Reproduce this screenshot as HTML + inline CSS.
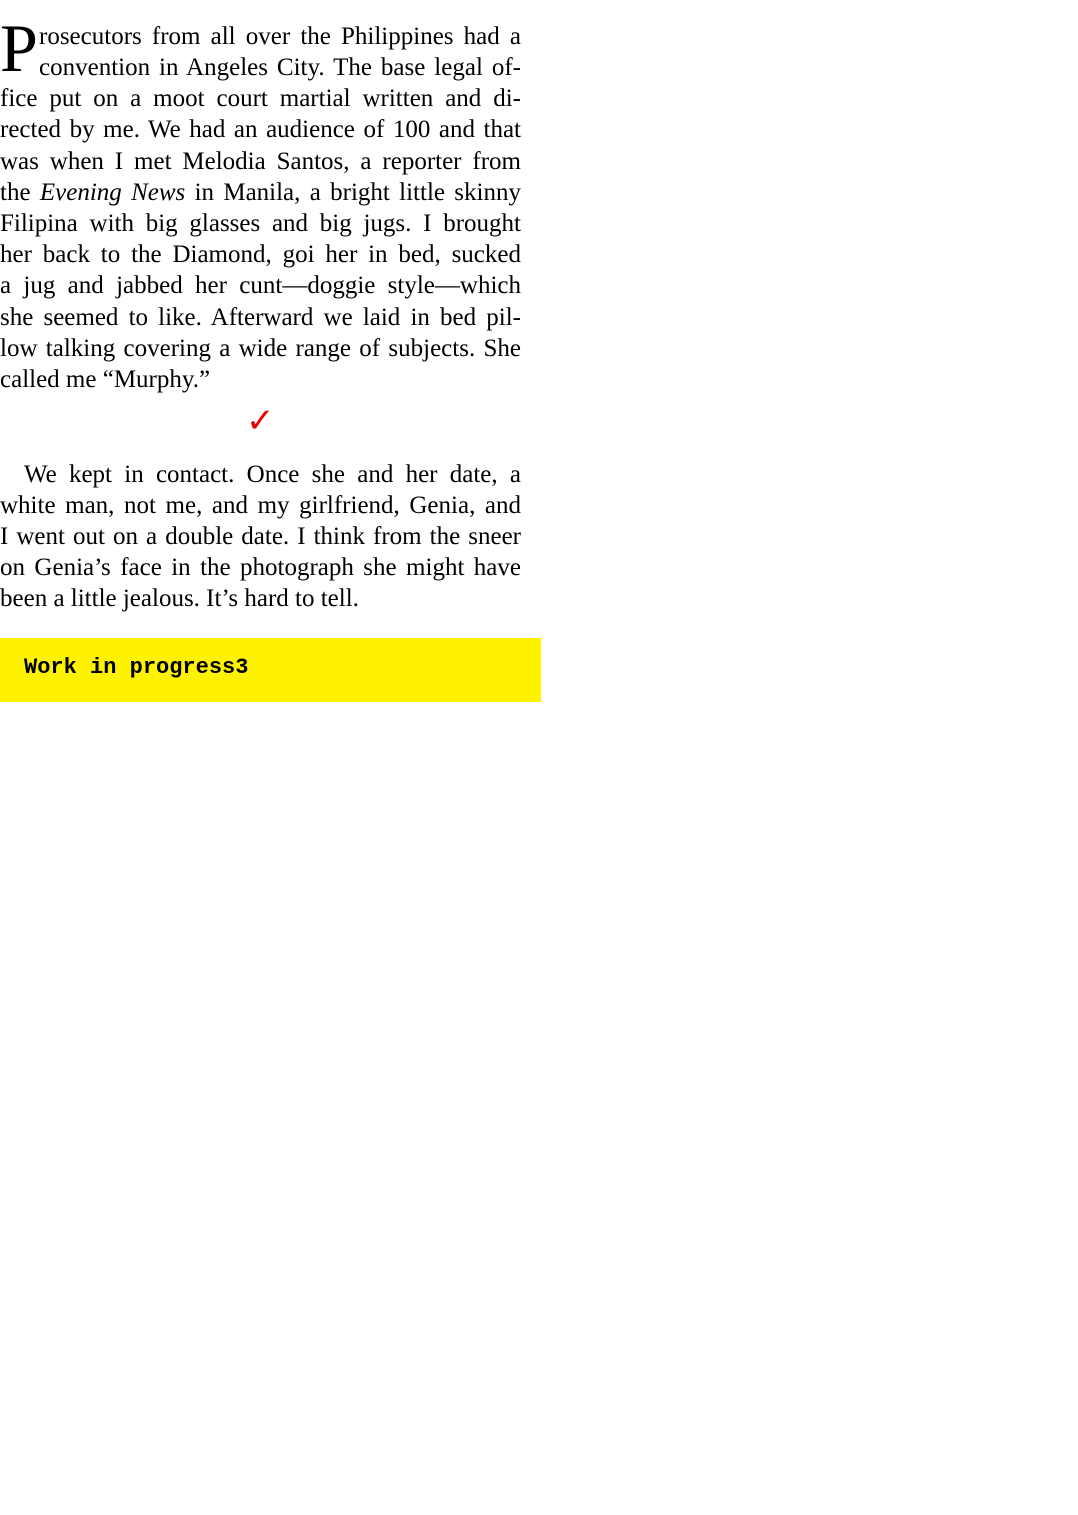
<!DOCTYPE html>
<html><head><meta charset="utf-8"><style>
html,body{margin:0;padding:0;background:#fff;width:1078px;height:1515px;overflow:hidden;position:relative}
.l{position:absolute;left:0;width:521px;font-family:"Liberation Serif",serif;font-size:25px;line-height:31px;color:#000;text-align:justify;text-align-last:justify;white-space:nowrap;}
.l span.j{display:block;text-align:justify;text-align-last:justify;white-space:normal}
.last{text-align-last:left!important}
.cap{position:absolute;left:0;top:14px;font-family:"Liberation Serif",serif;font-size:68px;line-height:68px;color:#000}
.chk{position:absolute;left:246px;top:404px;color:#e00;font-family:"DejaVu Sans",sans-serif;font-size:34px;line-height:34px}
.box{position:absolute;left:0;top:638px;width:541px;height:64px;background:#fff200}
.box div{position:absolute;left:24px;top:17px;font-family:"Liberation Mono",monospace;font-weight:bold;font-size:22px;line-height:26px;color:#000}
</style></head><body>
<div class="cap">P</div>
<div class="l" style="top:21px;left:39px;width:482px"><span class="j">rosecutors from all over the Philippines had a</span></div>
<div class="l" style="top:52px;left:39px;width:482px"><span class="j">convention in Angeles City. The base legal of-</span></div>
<div class="l" style="top:83px"><span class="j">fice put on a moot court martial written and di-</span></div>
<div class="l" style="top:114px"><span class="j">rected by me. We had an audience of 100 and that</span></div>
<div class="l" style="top:146px"><span class="j">was when I met Melodia Santos, a reporter from</span></div>
<div class="l" style="top:177px"><span class="j">the <i>Evening News</i> in Manila, a bright little skinny</span></div>
<div class="l" style="top:208px"><span class="j">Filipina with big glasses and big jugs. I brought</span></div>
<div class="l" style="top:239px"><span class="j">her back to the Diamond, goi her in bed, sucked</span></div>
<div class="l" style="top:270px"><span class="j">a jug and jabbed her cunt—doggie style—which</span></div>
<div class="l" style="top:302px"><span class="j">she seemed to like. Afterward we laid in bed pil-</span></div>
<div class="l" style="top:333px"><span class="j">low talking covering a wide range of subjects. She</span></div>
<div class="l" style="top:364px"><span class="j last">called me “Murphy.”</span></div>
<div class="chk">✓</div>
<div class="l" style="top:459px;left:24px;width:497px"><span class="j">We kept in contact. Once she and her date, a</span></div>
<div class="l" style="top:490px"><span class="j">white man, not me, and my girlfriend, Genia, and</span></div>
<div class="l" style="top:521px"><span class="j">I went out on a double date. I think from the sneer</span></div>
<div class="l" style="top:552px"><span class="j">on Genia’s face in the photograph she might have</span></div>
<div class="l" style="top:583px"><span class="j last">been a little jealous. It’s hard to tell.</span></div>
<div class="box"><div>Work in progress3</div></div>
</body></html>
